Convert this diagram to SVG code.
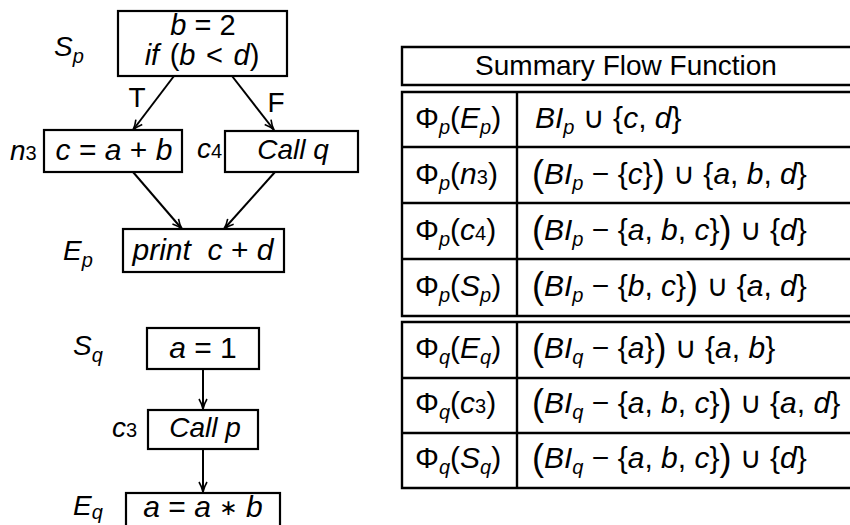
<svg xmlns="http://www.w3.org/2000/svg" width="850" height="525" viewBox="0 0 850 525">
<defs>
<marker id="ah" viewBox="0 0 12 10" refX="11" refY="5" markerWidth="12" markerHeight="10" markerUnits="userSpaceOnUse" orient="auto">
<path d="M1,1 Q6,4 11,5 Q6,6 1,9" fill="none" stroke="#000" stroke-width="1.6"/>
</marker>
</defs>
<style>
text{font-family:"Liberation Sans","DejaVu Sans",sans-serif;font-size:28px;fill:#000}
.mt{font-size:30px}
.i{font-style:italic}
.s{font-size:20px}
.bp{font-size:36px}
.ast{font-size:22px}
.box{fill:#fff;stroke:#000;stroke-width:2.2}
.tl{stroke:#000;stroke-width:2.4;fill:none}
.edge{stroke:#000;stroke-width:2;fill:none;marker-end:url(#ah)}
.m{text-anchor:middle}
</style>
<rect width="850" height="525" fill="#fff"/>
<g id="connectors">
<line class="edge" x1="174" y1="76" x2="133" y2="130"/>
<line class="edge" x1="232" y1="76" x2="274" y2="130"/>
<line class="edge" x1="133" y1="172" x2="182" y2="229"/>
<line class="edge" x1="275" y1="172" x2="224" y2="229"/>
<line class="edge" x1="203" y1="369" x2="203" y2="409"/>
<line class="edge" x1="203" y1="449" x2="203" y2="492"/>
<text x="137" y="107" class="m">T</text>
<text x="276" y="112" class="m">F</text>
</g>
<g id="Sp">
<rect class="box" x="118" y="11" width="169" height="65"/>
<text x="54" y="56"><tspan class="i">S</tspan><tspan class="i s" dy="7">p</tspan></text>
<text x="203" y="35" class="m" style="font-size:29px"><tspan class="i">b</tspan> = 2</text>
<text x="202" y="65" class="m" style="font-size:29px" word-spacing="2.5"><tspan class="i">if</tspan> (<tspan class="i">b</tspan> &lt; <tspan class="i">d</tspan>)</text>
</g>
<g id="n3">
<rect class="box" x="44" y="130" width="138" height="42"/>
<text x="10" y="160"><tspan class="i">n</tspan><tspan class="s">3</tspan></text>
<text x="114" y="160" class="m mt"><tspan class="i">c</tspan> = <tspan class="i">a</tspan> + <tspan class="i">b</tspan></text>
</g>
<g id="c4">
<rect class="box" x="225" y="131" width="133" height="41"/>
<text x="197" y="158"><tspan class="i">c</tspan><tspan class="s">4</tspan></text>
<text x="293" y="159" class="m i">Call q</text>
</g>
<g id="Ep">
<rect class="box" x="123" y="229" width="161" height="43"/>
<text x="63" y="260"><tspan class="i">E</tspan><tspan class="i s" dy="7">p</tspan></text>
<text x="203" y="260" class="m mt" xml:space="preserve"><tspan class="i">print</tspan>  <tspan class="i">c</tspan> + <tspan class="i">d</tspan></text>
</g>
<g id="Sq">
<rect class="box" x="147" y="328" width="112" height="41"/>
<text x="73" y="355"><tspan class="i">S</tspan><tspan class="i s" dy="7">q</tspan></text>
<text x="203" y="358" class="m mt"><tspan class="i">a</tspan> = 1</text>
</g>
<g id="c3">
<rect class="box" x="148" y="410" width="110" height="39"/>
<text x="112" y="437"><tspan class="i">c</tspan><tspan class="s">3</tspan></text>
<text x="205" y="437" class="m i">Call p</text>
</g>
<g id="Eq">
<rect class="box" x="126" y="493" width="154" height="45"/>
<text x="73" y="515"><tspan class="i">E</tspan><tspan class="i s" dy="4">q</tspan></text>
<text x="203" y="517" class="m mt"><tspan class="i">a</tspan> = <tspan class="i">a</tspan> <tspan class="ast" dy="-2">∗</tspan><tspan dy="2"> </tspan><tspan class="i">b</tspan></text>
</g>
<g id="table">
<path class="tl" d="M860,47 H402 V85 H860"/>
<text x="626" y="75" class="m">Summary Flow Function</text>
<path class="tl" d="M860,92 H402 V316 H860 M402,147 H860 M402,203 H860 M402,259 H860 M517,92 V316"/>
<path class="tl" d="M860,322 H402 V488 H860 M402,378 H860 M402,433 H860 M517,322 V488"/>
<text class="mt" x="415" y="128">Φ<tspan class="i s" dy="6">p</tspan><tspan dy="-6">(</tspan><tspan class="i">E</tspan><tspan class="i s" dy="6">p</tspan><tspan dy="-6">)</tspan></text>
<text class="mt" x="535" y="128"><tspan class="i">BI</tspan><tspan class="i s" dy="6">p</tspan><tspan dy="-6"> ∪ {</tspan><tspan class="i">c</tspan>, <tspan class="i">d</tspan>}</text>
<text class="mt" x="415" y="184">Φ<tspan class="i s" dy="6">p</tspan><tspan dy="-6">(</tspan><tspan class="i">n</tspan><tspan class="s">3</tspan>)</text>
<text class="mt" x="532" y="184"><tspan class="bp" dy="2">(</tspan><tspan class="i" dy="-2">BI</tspan><tspan class="i s" dy="6">p</tspan><tspan dy="-6"> − {</tspan><tspan class="i">c</tspan>}<tspan class="bp" dy="2">)</tspan><tspan dy="-2"> ∪ {</tspan><tspan class="i">a</tspan>, <tspan class="i">b</tspan>, <tspan class="i">d</tspan>}</text>
<text class="mt" x="415" y="240">Φ<tspan class="i s" dy="6">p</tspan><tspan dy="-6">(</tspan><tspan class="i">c</tspan><tspan class="s">4</tspan>)</text>
<text class="mt" x="532" y="240"><tspan class="bp" dy="2">(</tspan><tspan class="i" dy="-2">BI</tspan><tspan class="i s" dy="6">p</tspan><tspan dy="-6"> − {</tspan><tspan class="i">a</tspan>, <tspan class="i">b</tspan>, <tspan class="i">c</tspan>}<tspan class="bp" dy="2">)</tspan><tspan dy="-2"> ∪ {</tspan><tspan class="i">d</tspan>}</text>
<text class="mt" x="415" y="296">Φ<tspan class="i s" dy="6">p</tspan><tspan dy="-6">(</tspan><tspan class="i">S</tspan><tspan class="i s" dy="6">p</tspan><tspan dy="-6">)</tspan></text>
<text class="mt" x="532" y="296"><tspan class="bp" dy="2">(</tspan><tspan class="i" dy="-2">BI</tspan><tspan class="i s" dy="6">p</tspan><tspan dy="-6"> − {</tspan><tspan class="i">b</tspan>, <tspan class="i">c</tspan>}<tspan class="bp" dy="2">)</tspan><tspan dy="-2"> ∪ {</tspan><tspan class="i">a</tspan>, <tspan class="i">d</tspan>}</text>
<text class="mt" x="415" y="358">Φ<tspan class="i s" dy="6">q</tspan><tspan dy="-6">(</tspan><tspan class="i">E</tspan><tspan class="i s" dy="6">q</tspan><tspan dy="-6">)</tspan></text>
<text class="mt" x="532" y="358"><tspan class="bp" dy="2">(</tspan><tspan class="i" dy="-2">BI</tspan><tspan class="i s" dy="6">q</tspan><tspan dy="-6"> − {</tspan><tspan class="i">a</tspan>}<tspan class="bp" dy="2">)</tspan><tspan dy="-2"> ∪ {</tspan><tspan class="i">a</tspan>, <tspan class="i">b</tspan>}</text>
<text class="mt" x="415" y="413">Φ<tspan class="i s" dy="6">q</tspan><tspan dy="-6">(</tspan><tspan class="i">c</tspan><tspan class="s">3</tspan>)</text>
<text class="mt" x="532" y="413"><tspan class="bp" dy="2">(</tspan><tspan class="i" dy="-2">BI</tspan><tspan class="i s" dy="6">q</tspan><tspan dy="-6"> − {</tspan><tspan class="i">a</tspan>, <tspan class="i">b</tspan>, <tspan class="i">c</tspan>}<tspan class="bp" dy="2">)</tspan><tspan dy="-2"> ∪ {</tspan><tspan class="i">a</tspan>, <tspan class="i">d</tspan>}</text>
<text class="mt" x="415" y="468">Φ<tspan class="i s" dy="6">q</tspan><tspan dy="-6">(</tspan><tspan class="i">S</tspan><tspan class="i s" dy="6">q</tspan><tspan dy="-6">)</tspan></text>
<text class="mt" x="532" y="468"><tspan class="bp" dy="2">(</tspan><tspan class="i" dy="-2">BI</tspan><tspan class="i s" dy="6">q</tspan><tspan dy="-6"> − {</tspan><tspan class="i">a</tspan>, <tspan class="i">b</tspan>, <tspan class="i">c</tspan>}<tspan class="bp" dy="2">)</tspan><tspan dy="-2"> ∪ {</tspan><tspan class="i">d</tspan>}</text>
</g>
</svg>
